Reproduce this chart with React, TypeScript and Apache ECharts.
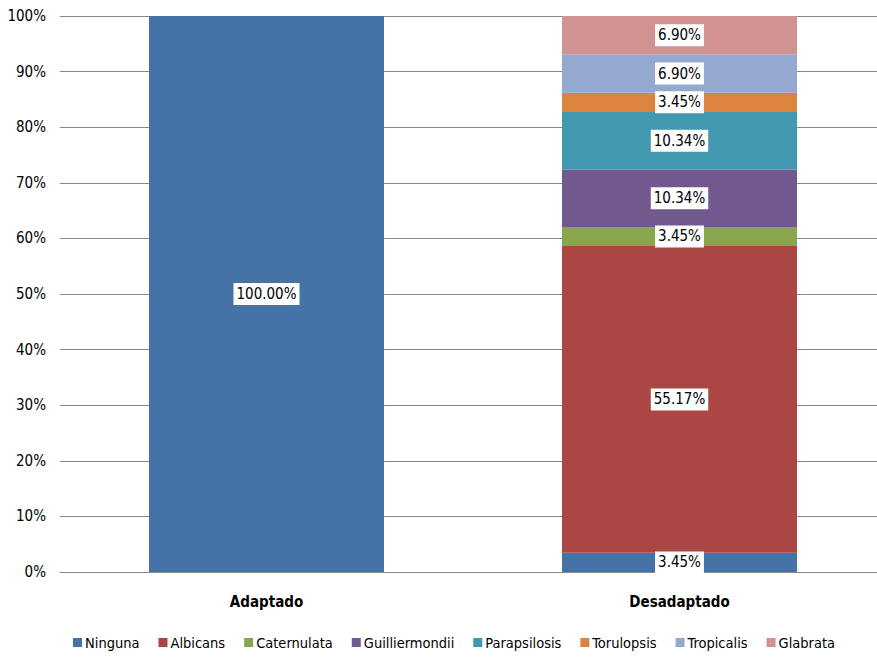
import React, { useEffect, useRef } from "react";
import * as echarts from "echarts";

const categories = ["Adaptado", "Desadaptado"];
const seriesNames = [
  "Ninguna",
  "Albicans",
  "Caternulata",
  "Guilliermondii",
  "Parapsilosis",
  "Torulopsis",
  "Tropicalis",
  "Glabrata",
];
const ninguna = [100.0, 3.45];
const albicans = [null, 55.17];
const caternulata = [null, 3.45];
const guilliermondii = [null, 10.34];
const parapsilosis = [null, 10.34];
const torulopsis = [null, 3.45];
const tropicalis = [null, 6.9];
const glabrata = [null, 6.9];
const seriesValues = [
  ninguna,
  albicans,
  caternulata,
  guilliermondii,
  parapsilosis,
  torulopsis,
  tropicalis,
  glabrata,
];
const colors = [
  "#4572A7",
  "#AA4643",
  "#89A54E",
  "#71588F",
  "#4198AF",
  "#DB843D",
  "#93A9CF",
  "#D19392",
];

const FONT = "'DejaVu Sans Condensed', 'Liberation Sans Narrow', 'Open Sans', sans-serif";

export default function App() {
  const ref = useRef<HTMLDivElement>(null);
  useEffect(() => {
    if (!ref.current) return;
    const chart = echarts.init(ref.current, undefined, { renderer: "svg" });
    chart.setOption({
      animation: false,
      color: colors,
      textStyle: { fontFamily: FONT },
      // plot area runs slightly past the visible frame on the right
      grid: { left: 60, right: 6, top: 16, bottom: 87, containLabel: false },
      legend: {
        bottom: 4,
        left: 68,
        itemWidth: 9,
        itemHeight: 9,
        itemGap: 19,
        icon: "rect",
        textStyle: { fontFamily: FONT, fontSize: 14.5, color: "#000", padding: [0, 0, 0, -2] },
        data: seriesNames,
      },
      xAxis: {
        type: "category",
        data: categories,
        axisLine: { lineStyle: { color: "#888" } },
        axisTick: { show: false },
        axisLabel: {
          fontFamily: FONT,
          fontSize: 15,
          fontWeight: "bold",
          color: "#000",
          margin: 22,
        },
      },
      yAxis: {
        type: "value",
        min: 0,
        max: 100,
        interval: 10,
        axisLine: { show: false },
        axisTick: { show: false },
        splitLine: { lineStyle: { color: "#888" } },
        axisLabel: {
          fontFamily: FONT,
          fontSize: 15,
          color: "#000",
          margin: 14,
          formatter: (v: number) => `${v}%`,
        },
      },
      series: seriesNames.map((name, i) => ({
        name,
        type: "bar",
        stack: "total",
        barWidth: 235,
        data: seriesValues[i],
        label: {
          show: true,
          position: "inside",
          formatter: (p: any) => `${Number(p.value).toFixed(2)}%`,
          backgroundColor: "#fff",
          color: "#000",
          fontFamily: FONT,
          fontSize: 15,
          padding: [4, 3, 3, 3],
        },
      })),
    });
    return () => chart.dispose();
  }, []);
  return (
    <div
      style={{
        position: "absolute",
        left: 0,
        top: 0,
        width: 877,
        height: 659,
        overflow: "hidden",
      }}
    >
      <div ref={ref} style={{ width: 892, height: 659 }} />
    </div>
  );
}
